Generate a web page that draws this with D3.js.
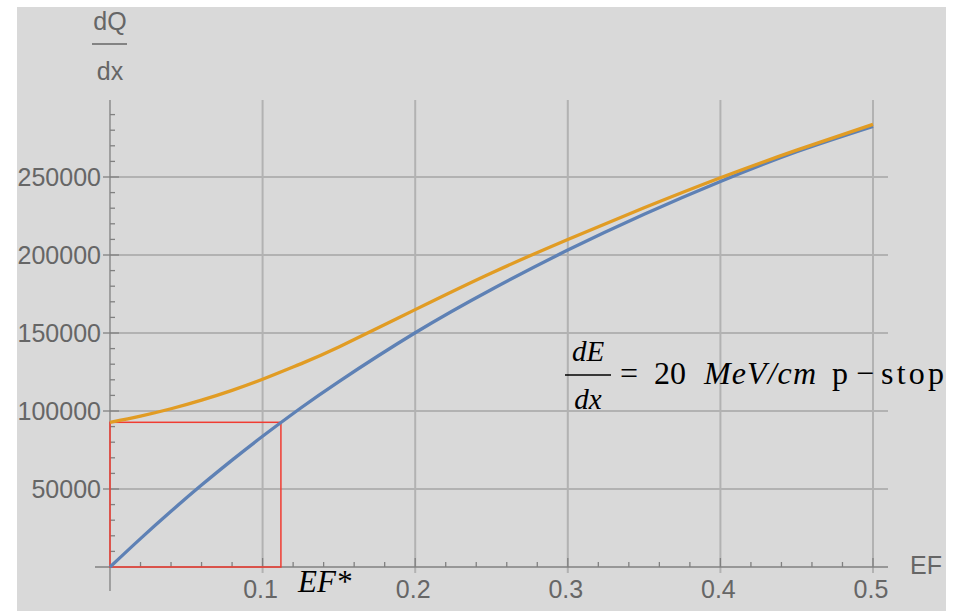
<!DOCTYPE html>
<html>
<head>
<meta charset="utf-8">
<script src="https://cdn.jsdelivr.net/npm/d3@7"></script>
<style>
  body { margin: 0; background: #fff; }
  svg { display: block; }
</style>
</head>
<body>
<div id="chart"></div>
<script>
// values
const efValues = [0, 0.02, 0.04, 0.06, 0.08, 0.1, 0.125, 0.15, 0.2, 0.25, 0.3, 0.35, 0.4, 0.45, 0.5];
const blueValues = [0, 18200, 35700, 52500, 68500, 83800, 101900, 118900, 150150, 177900, 203150, 226150, 247150, 266150, 282400];
const orangeValues = [92750, 96750, 101450, 106950, 113250, 120350, 130225, 140975, 164975, 188475, 209975, 230225, 249475, 267225, 283725];
const xTickLabels = [0.1, 0.2, 0.3, 0.4, 0.5];
const yTickLabels = [50000, 100000, 150000, 200000, 250000];
const efStar = 0.112;
const qStar = 92750;

const width = 970, height = 611;

const svg = d3.select("#chart")
  .append("svg")
    .attr("width", width)
    .attr("height", height);

// grey panel
svg.append("rect")
  .attr("x", 17).attr("y", 7)
  .attr("width", 929).attr("height", 604)
  .attr("fill", "#d9d9d9");

const x = d3.scaleLinear()
  .domain([0, 0.5])
  .range([110, 873]);

const y = d3.scaleLinear()
  .domain([0, 250000])
  .range([567, 177]);

const xEnd = x.invert(888);   // axis runs a bit past 0.5
const yTop = y.invert(100);
const gridCol = "#b2b2b2", axisCol = "#808080", textCol = "#666";
const sans = "Liberation Sans, Arial, sans-serif";
const serif = "Liberation Serif, Times New Roman, serif";

// grid lines
svg.selectAll(".vgrid")
  .data(xTickLabels)
  .enter()
  .append("line")
    .attr("x1", d => x(d)).attr("x2", d => x(d))
    .attr("y1", y(yTop)).attr("y2", 573)
    .attr("stroke", gridCol)
    .attr("stroke-width", 2);

svg.selectAll(".hgrid")
  .data(yTickLabels)
  .enter()
  .append("line")
    .attr("x1", x(0)).attr("x2", x(xEnd))
    .attr("y1", d => y(d)).attr("y2", d => y(d))
    .attr("stroke", gridCol)
    .attr("stroke-width", 2);

// axes
svg.append("line")
  .attr("x1", 95).attr("x2", x(xEnd))
  .attr("y1", y(0)).attr("y2", y(0))
  .attr("stroke", axisCol).attr("stroke-width", 1.3);

svg.append("line")
  .attr("x1", x(0)).attr("x2", x(0))
  .attr("y1", y(yTop)).attr("y2", 591)
  .attr("stroke", axisCol).attr("stroke-width", 1.3);

// x ticks
const xMinor = d3.range(1, 26).map(i => i * 0.02).filter(v => Math.abs(v * 10 - Math.round(v * 10)) > 1e-6);
svg.selectAll(".xminor")
  .data(xMinor)
  .enter()
  .append("line")
    .attr("x1", d => x(d)).attr("x2", d => x(d))
    .attr("y1", y(0)).attr("y2", y(0) - 5)
    .attr("stroke", axisCol).attr("stroke-width", 1.3);

svg.selectAll(".xmajor")
  .data(xTickLabels)
  .enter()
  .append("line")
    .attr("x1", d => x(d)).attr("x2", d => x(d))
    .attr("y1", y(0)).attr("y2", y(0) - 9)
    .attr("stroke", axisCol).attr("stroke-width", 1.3);

svg.selectAll(".xlabel")
  .data(xTickLabels)
  .enter()
  .append("text")
    .attr("x", d => x(d) - 2)
    .attr("y", 598)
    .attr("text-anchor", "middle")
    .style("font-family", sans)
    .style("font-size", "25px")
    .style("fill", textCol)
    .text(d => d);

// y ticks
const yMinor = d3.range(1, 30).map(i => i * 10000).filter(v => v % 50000 !== 0);
svg.selectAll(".yminor")
  .data(yMinor)
  .enter()
  .append("line")
    .attr("x1", x(0)).attr("x2", x(0) + 5)
    .attr("y1", d => y(d)).attr("y2", d => y(d))
    .attr("stroke", axisCol).attr("stroke-width", 1.3);

svg.selectAll(".ymajor")
  .data(yTickLabels)
  .enter()
  .append("line")
    .attr("x1", x(0) - 7).attr("x2", x(0) + 9)
    .attr("y1", d => y(d)).attr("y2", d => y(d))
    .attr("stroke", axisCol).attr("stroke-width", 1.3);

svg.selectAll(".ylabel")
  .data(yTickLabels)
  .enter()
  .append("text")
    .attr("x", 101)
    .attr("y", d => y(d) + 8.5)
    .attr("text-anchor", "end")
    .style("font-family", sans)
    .style("font-size", "25px")
    .style("fill", textCol)
    .text(d => d);

// axis labels
svg.append("text")
  .attr("x", 910).attr("y", 574)
  .style("font-family", sans)
  .style("font-size", "25px")
  .style("fill", textCol)
  .text("EF");

svg.append("text")
  .attr("x", 110).attr("y", 30)
  .attr("text-anchor", "middle")
  .style("font-family", sans)
  .style("font-size", "25px")
  .style("fill", textCol)
  .text("dQ");
svg.append("line")
  .attr("x1", 92).attr("x2", 127)
  .attr("y1", 44).attr("y2", 44)
  .attr("stroke", textCol).attr("stroke-width", 1.5);
svg.append("text")
  .attr("x", 110).attr("y", 80)
  .attr("text-anchor", "middle")
  .style("font-family", sans)
  .style("font-size", "25px")
  .style("fill", textCol)
  .text("dx");

// red box marking EF*
svg.append("rect")
  .attr("x", x(0)).attr("y", y(qStar))
  .attr("width", x(efStar) - x(0))
  .attr("height", y(0) - y(qStar))
  .attr("fill", "none")
  .attr("stroke", "#f03c32")
  .attr("stroke-width", 1.5);

// curves
const line = d3.line()
  .x(d => x(d[0]))
  .y(d => y(d[1]))
  .curve(d3.curveNatural);

const series = [
  { name: "blue", values: efValues.map((e, i) => [e, blueValues[i]]), color: "#5e81b5" },
  { name: "orange", values: efValues.map((e, i) => [e, orangeValues[i]]), color: "#e19c24" }
];

svg.selectAll(".curve")
  .data(series)
  .enter()
  .append("path")
    .attr("d", d => line(d.values))
    .attr("stroke", d => d.color)
    .attr("stroke-width", 3.3)
    .attr("fill", "none");

// annotations
svg.append("text")
  .attr("x", 298).attr("y", 592)
  .style("font-family", serif)
  .style("font-style", "italic")
  .style("font-size", "31px")
  .style("fill", "#000")
  .text("EF*");

svg.append("text")
  .attr("x", 588).attr("y", 361)
  .attr("text-anchor", "middle")
  .style("font-family", serif)
  .style("font-style", "italic")
  .style("font-size", "29px")
  .text("dE");
svg.append("line")
  .attr("x1", 565).attr("x2", 611)
  .attr("y1", 375).attr("y2", 375)
  .attr("stroke", "#000").attr("stroke-width", 1.6);
svg.append("text")
  .attr("x", 588).attr("y", 409)
  .attr("text-anchor", "middle")
  .style("font-family", serif)
  .style("font-style", "italic")
  .style("font-size", "29px")
  .text("dx");

const note = svg.append("text")
  .attr("y", 384)
  .style("font-family", serif)
  .style("font-size", "32px")
  .style("fill", "#000");
note.append("tspan").attr("x", 620).text("=");
note.append("tspan").attr("x", 654).text("20");
note.append("tspan").attr("x", 704).style("font-style", "italic")
  .attr("textLength", 112).text("MeV/cm");
note.append("tspan").attr("x", 832).text("p");
note.append("tspan").attr("x", 856).text("\u2212");
note.append("tspan").attr("x", 881).attr("textLength", 63).text("stop");
</script>
</body>
</html>
